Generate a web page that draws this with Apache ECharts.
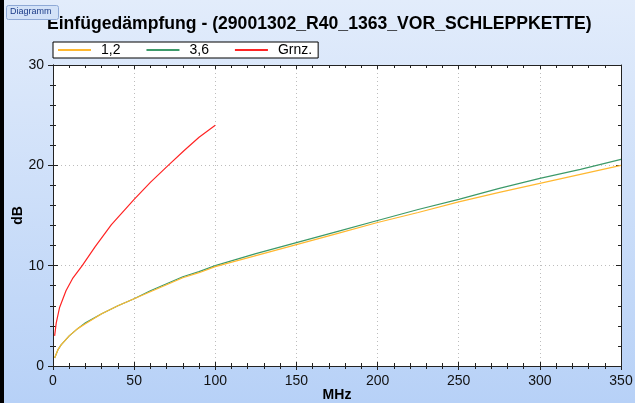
<!DOCTYPE html>
<html>
<head>
<meta charset="utf-8">
<script src="https://cdn.jsdelivr.net/npm/echarts@6/dist/echarts.min.js"></script>
<style>
  html, body { margin: 0; padding: 0; }
  #chart { width: 635px; height: 403px; }
</style>
</head>
<body>
<div id="chart"></div>
<script>
// Frequenz (MHz) und Dämpfung (dB)
var freq = [1, 3, 5, 10, 15, 20, 30, 40, 50, 60, 70, 80, 90, 100, 125, 150, 175, 200, 225, 250, 275, 300, 325, 350]
var daempfung12 = [0.8, 1.6, 2.1, 3.0, 3.7, 4.2, 5.2, 6.0, 6.7, 7.4, 8.1, 8.8, 9.3, 9.9, 11.0, 12.1, 13.2, 14.3, 15.3, 16.35, 17.3, 18.2, 19.1, 20.0]
var daempfung36 = [0.8, 1.6, 2.1, 3.0, 3.7, 4.3, 5.2, 6.0, 6.7, 7.5, 8.2, 8.9, 9.4, 10.0, 11.2, 12.3, 13.4, 14.5, 15.6, 16.6, 17.7, 18.7, 19.6, 20.6]
// Grenzwert
var grenzFreq = [1, 2, 4, 8, 12, 18, 26, 36, 50, 60, 71, 81, 90, 100]
var grenzWert = [3.0, 4.3, 5.8, 7.5, 8.7, 10.0, 11.9, 14.1, 16.6, 18.3, 20.0, 21.5, 22.8, 24.0]

var seriesNamen = ['1,2', '3,6', 'Grnz.']
var farben = ['#ffb830', '#3d9a6a', '#ff2424']

function paare(xs, ys) {
    return xs.map(function (x, i) { return [x, ys[i]] })
}

var chart = echarts.init(document.getElementById('chart'))

// Achsen-Grundeinstellungen (Ticks laufen über die Achse hinweg -> je zwei Achsen)
function xAchse(pos, inside, labels) {
    return {
        type: 'value', min: 0, max: 350, interval: 50, position: pos,
        name: labels ? 'MHz' : '', nameLocation: 'middle', nameGap: 22, nameMoveOverlap: false,
        nameTextStyle: { fontWeight: 'bold', fontSize: 14, color: '#000' },
        axisLine: { show: true, onZero: false, lineStyle: { color: '#222', width: 1 } },
        axisTick: { show: true, inside: inside, length: 4, lineStyle: { color: '#222' } },
        minorTick: { show: true, splitNumber: 5, length: 3, lineStyle: { color: '#222' } },
        axisLabel: { show: labels, color: '#111', fontSize: 14, margin: 8 },
        splitLine: { show: labels, lineStyle: { color: '#bdbdbd', type: [1, 3] } }
    }
}
function yAchse(pos, inside, labels) {
    return {
        type: 'value', min: 0, max: 30, interval: 10, position: pos,
        name: labels ? 'dB' : '', nameLocation: 'middle', nameGap: 28, nameMoveOverlap: false,
        nameTextStyle: { fontWeight: 'bold', fontSize: 14, color: '#000' },
        axisLine: { show: true, onZero: false, lineStyle: { color: '#222', width: 1 } },
        axisTick: { show: true, inside: inside, length: 5, lineStyle: { color: '#222' } },
        minorTick: { show: true, splitNumber: 5, length: 3, lineStyle: { color: '#222' } },
        axisLabel: { show: labels, color: '#111', fontSize: 14, margin: 9 },
        splitLine: { show: labels, lineStyle: { color: '#bdbdbd', type: [1, 3] } }
    }
}

var option = {
    animation: false,
    backgroundColor: new echarts.graphic.LinearGradient(0, 0, 0, 1, [
        { offset: 0, color: '#e2ecfb' },
        { offset: 1, color: '#b7d1f7' }
    ]),
    title: {
        text: 'Einfügedämpfung - (29001302_R40_1363_VOR_SCHLEPPKETTE)',
        left: 42, top: 10,
        textStyle: { fontSize: 17.6, fontWeight: 'bold', color: '#000', fontFamily: 'Liberation Sans, Arial' }
    },
    graphic: [
        { type: 'rect', left: 0, top: 0, shape: { width: 4, height: 403 }, style: { fill: '#000' } },
        {
            type: 'rect', left: 6, top: 5, z: 100,
            shape: { width: 52, height: 14, r: 2 },
            style: { fill: '#d3e2f8', stroke: '#8ea9d6', lineWidth: 1 }
        },
        {
            type: 'text', left: 10, top: 7, z: 101,
            style: { text: 'Diagramm', fill: '#1c3c88', fontSize: 9, fontFamily: 'Liberation Sans, Arial' }
        }
    ],
    legend: {
        left: 53, top: 42,
        data: seriesNamen,
        backgroundColor: '#fff', borderColor: '#000', borderWidth: 1, borderRadius: 0,
        padding: [1, 6, 1, 4],
        itemWidth: 33, itemHeight: 14, itemGap: 25,
        itemStyle: { opacity: 0 },
        textStyle: { color: '#000', fontSize: 14, padding: [0, 0, 0, 5], fontFamily: 'Liberation Sans, Arial' }
    },
    grid: {
        left: 53, right: 14, top: 65, bottom: 37, containLabel: false, outerBoundsMode: 'none',
        show: true, backgroundColor: '#fff', borderWidth: 0
    },
    xAxis: [
        xAchse('bottom', false, true),
        xAchse('bottom', true, false),
        xAchse('top', true, false)
    ],
    yAxis: [
        yAchse('left', false, true),
        yAchse('left', true, false),
        yAchse('right', true, false)
    ],
    series: [
        { name: seriesNamen[0], type: 'line', symbol: 'none', color: farben[0], lineStyle: { width: 1.2 }, data: paare(freq, daempfung12), z: 3 },
        { name: seriesNamen[1], type: 'line', symbol: 'none', color: farben[1], lineStyle: { width: 1.2 }, data: paare(freq, daempfung36), z: 2 },
        { name: seriesNamen[2], type: 'line', symbol: 'none', color: farben[2], lineStyle: { width: 1.2 }, data: paare(grenzFreq, grenzWert), z: 2 }
    ]
}
chart.setOption(option)
window.addEventListener('resize', chart.resize)
</script>
</body>
</html>
